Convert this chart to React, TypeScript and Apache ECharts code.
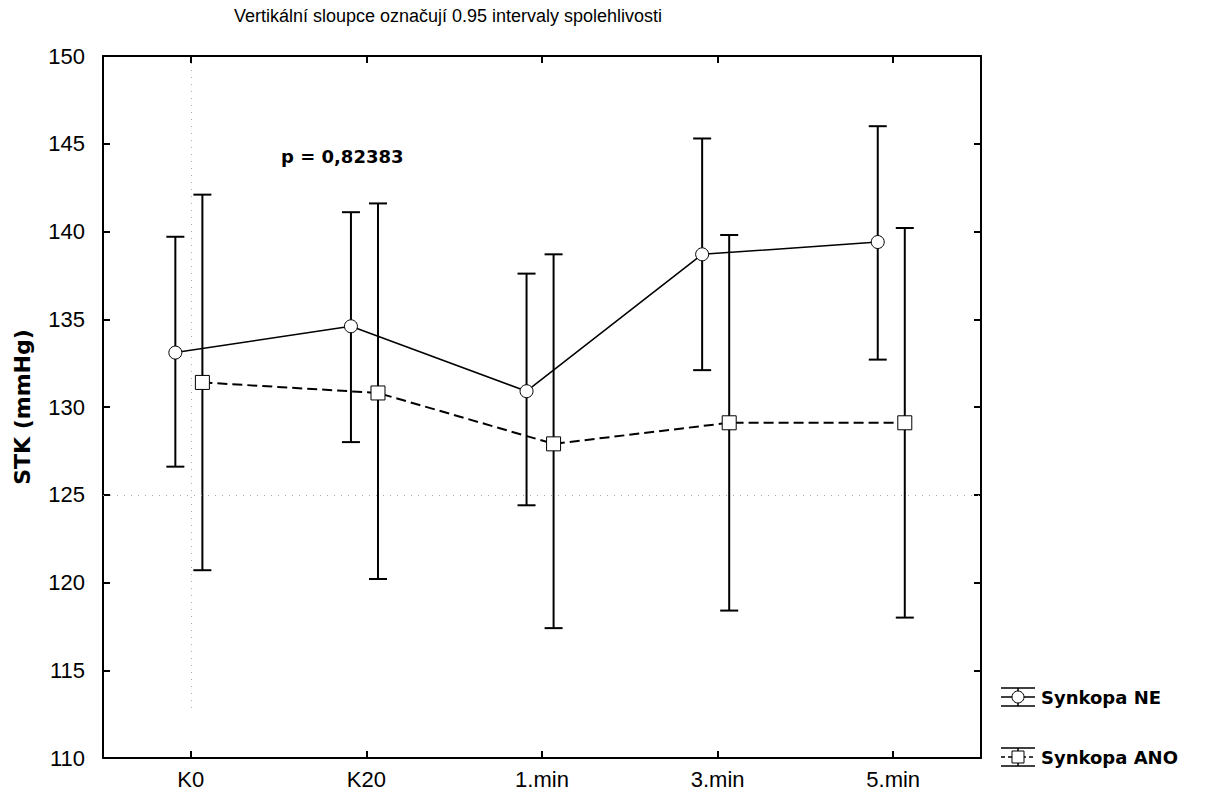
import React, { useEffect, useRef } from "react";
import * as echarts from "echarts";

const categories = ["K0", "K20", "1.min", "3.min", "5.min"];
const neMean = [133.1, 134.6, 130.9, 138.7, 139.4];
const neLow = [126.6, 128.0, 124.4, 132.1, 132.7];
const neHigh = [139.7, 141.1, 137.6, 145.3, 146.0];
const anoMean = [131.4, 130.8, 127.9, 129.1, 129.1];
const anoLow = [120.7, 120.2, 117.4, 118.4, 118.0];
const anoHigh = [142.1, 141.6, 138.7, 139.8, 140.2];
const yTicks = { min: 110, max: 150, interval: 5 };
const refH = [125];
const refV = [[0, 112.5, 150]];
const titleText = "Vertikální sloupce označují 0.95 intervaly spolehlivosti";
const pText = "p = 0,82383";
const neName = "Synkopa NE";
const anoName = "Synkopa ANO";

const NE_OFF = -0.088;
const ANO_OFF = 0.066;
const REG = "Liberation Sans, Arial, sans-serif";
const BOLD = "DejaVu Sans, sans-serif";

function errRender(params: any, api: any) {
  const x = api.value(0);
  const lo = api.coord([x, api.value(1)]);
  const hi = api.coord([x, api.value(2)]);
  const h = 9;
  const st = { stroke: "#000", lineWidth: 2 };
  return {
    type: "group",
    children: [
      { type: "line", shape: { x1: hi[0], y1: hi[1], x2: lo[0], y2: lo[1] }, style: st },
      { type: "line", shape: { x1: hi[0] - h, y1: hi[1], x2: hi[0] + h, y2: hi[1] }, style: st },
      { type: "line", shape: { x1: lo[0] - h, y1: lo[1], x2: lo[0] + h, y2: lo[1] }, style: st },
    ],
  };
}

function refVRender(params: any, api: any) {
  const x = api.value(0);
  const lo = api.coord([x, api.value(1)]);
  const hi = api.coord([x, api.value(2)]);
  return {
    type: "line",
    shape: { x1: Math.round(hi[0]) + 0.5, y1: hi[1], x2: Math.round(lo[0]) + 0.5, y2: lo[1] },
    style: { stroke: "#aaa", lineWidth: 1, lineDash: [1, 6] },
  };
}

function legendIcon(cx: number, cy: number, square: boolean): any[] {
  const st = { stroke: "#000", lineWidth: 1.5 };
  const els: any[] = [
    { type: "line", shape: { x1: cx - 17, y1: cy - 9, x2: cx + 17, y2: cy - 9 }, style: st },
    { type: "line", shape: { x1: cx - 17, y1: cy + 9, x2: cx + 17, y2: cy + 9 }, style: st },
    { type: "line", shape: { x1: cx, y1: cy - 9, x2: cx, y2: cy + 9 }, style: st },
    {
      type: "line",
      shape: { x1: cx - 17, y1: cy, x2: cx + 17, y2: cy },
      style: { stroke: "#000", lineWidth: 1.5, lineDash: square ? [4, 3] : null },
    },
  ];
  if (square) {
    els.push({ type: "rect", shape: { x: cx - 6, y: cy - 6, width: 12, height: 12 }, style: { fill: "#fff", stroke: "#000", lineWidth: 1 } });
  } else {
    els.push({ type: "circle", shape: { cx, cy, r: 6 }, style: { fill: "#fff", stroke: "#000", lineWidth: 1 } });
  }
  return els;
}

export default function App() {
  const ref = useRef<HTMLDivElement>(null);
  useEffect(() => {
    if (!ref.current) return;
    const chart = echarts.init(ref.current, null, { renderer: "svg" });
    const neLine = neMean.map((v, i) => [i + NE_OFF, v]);
    const anoLine = anoMean.map((v, i) => [i + ANO_OFF, v]);
    const neErr = neMean.map((_, i) => [i + NE_OFF, neLow[i], neHigh[i]]);
    const anoErr = anoMean.map((_, i) => [i + ANO_OFF, anoLow[i], anoHigh[i]]);
    const axLine = { show: true, onZero: false, lineStyle: { color: "#000", width: 2 } };
    const tick = { show: true, inside: true, length: 7, alignWithLabel: true, lineStyle: { color: "#000", width: 2 } };
    chart.setOption({
      animation: false,
      backgroundColor: "#fff",
      grid: { left: 103, right: 241, top: 56, bottom: 41, containLabel: false },
      xAxis: [
        {
          type: "category",
          position: "bottom",
          data: categories,
          boundaryGap: true,
          axisLine: axLine,
          axisTick: tick,
          axisLabel: { fontFamily: REG, fontSize: 22, color: "#000", margin: 10 },
          splitLine: { show: false },
        },
        {
          type: "category",
          position: "top",
          data: categories,
          boundaryGap: true,
          axisLine: axLine,
          axisTick: tick,
          axisLabel: { show: false },
          splitLine: { show: false },
        },
        { type: "value", min: -0.5, max: 4.5, show: false },
      ],
      yAxis: [
        {
          type: "value",
          position: "left",
          min: yTicks.min,
          max: yTicks.max,
          interval: yTicks.interval,
          axisLine: axLine,
          axisTick: { show: true, inside: true, length: 7, lineStyle: { color: "#000", width: 2 } },
          axisLabel: { fontFamily: REG, fontSize: 22, color: "#000", margin: 18 },
          splitLine: { show: false },
          name: "STK (mmHg)",
          nameLocation: "middle",
          nameRotate: 90,
          nameGap: 70,
          nameTextStyle: { fontFamily: BOLD, fontWeight: "bold", fontSize: 22, color: "#000" },
        },
        {
          type: "value",
          position: "right",
          min: yTicks.min,
          max: yTicks.max,
          interval: yTicks.interval,
          axisLine: axLine,
          axisTick: { show: true, inside: true, length: 7, lineStyle: { color: "#000", width: 2 } },
          axisLabel: { show: false },
          splitLine: { show: false },
        },
      ],
      series: [
        {
          type: "line",
          xAxisIndex: 2,
          data: [],
          silent: true,
          markLine: {
            symbol: "none",
            silent: true,
            label: { show: false },
            lineStyle: { color: "#aaa", type: [1, 6], width: 1 },
            data: refH.map((v) => ({ yAxis: v })),
          },
        },
        { type: "custom", name: "refV", xAxisIndex: 2, renderItem: refVRender, data: refV, encode: { x: 0, y: [1, 2] }, z: 0, silent: true },
        { type: "custom", name: "neErr", xAxisIndex: 2, renderItem: errRender, data: neErr, encode: { x: 0, y: [1, 2] }, z: 1 },
        { type: "custom", name: "anoErr", xAxisIndex: 2, renderItem: errRender, data: anoErr, encode: { x: 0, y: [1, 2] }, z: 1 },
        {
          type: "line",
          name: neName,
          xAxisIndex: 2,
          data: neLine,
          symbol: "circle",
          symbolSize: 13,
          showAllSymbol: true,
          itemStyle: { color: "#fff", borderColor: "#000", borderWidth: 1 },
          lineStyle: { color: "#000", width: 1.5 },
          z: 3,
        },
        {
          type: "line",
          name: anoName,
          xAxisIndex: 2,
          data: anoLine,
          symbol: "rect",
          symbolSize: 14,
          showAllSymbol: true,
          itemStyle: { color: "#fff", borderColor: "#000", borderWidth: 1 },
          lineStyle: { color: "#000", width: 2, type: [10, 5] },
          z: 3,
        },
      ],
      graphic: [
        {
          type: "text",
          x: 448,
          y: 16,
          style: { text: titleText, fontFamily: REG, fontSize: 18, fill: "#000", textAlign: "center", textVerticalAlign: "middle" },
        },
        {
          type: "text",
          x: 281,
          y: 156,
          style: { text: pText, fontFamily: BOLD, fontWeight: "bold", fontSize: 18, fill: "#000", textVerticalAlign: "middle" },
        },
        ...legendIcon(1018, 697, false),
        ...legendIcon(1018, 757, true),
        {
          type: "text",
          x: 1041,
          y: 697,
          style: { text: neName, fontFamily: BOLD, fontWeight: "bold", fontSize: 18, fill: "#000", textVerticalAlign: "middle" },
        },
        {
          type: "text",
          x: 1041,
          y: 757,
          style: { text: anoName, fontFamily: BOLD, fontWeight: "bold", fontSize: 18, fill: "#000", textVerticalAlign: "middle" },
        },
      ],
    });
    return () => chart.dispose();
  }, []);
  return <div ref={ref} style={{ position: "fixed", left: 0, top: 0, width: 1222, height: 799, background: "#fff" }} />;
}
